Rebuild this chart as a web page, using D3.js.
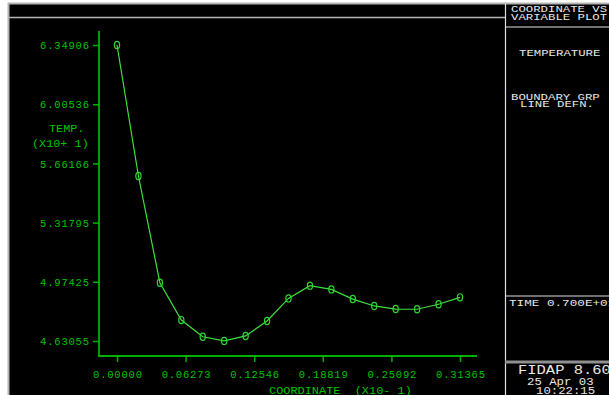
<!DOCTYPE html>
<html><head><meta charset="utf-8">
<script src="https://cdn.jsdelivr.net/npm/d3@7/dist/d3.min.js"></script>
<style>
html,body{margin:0;padding:0;background:#fff;}
svg{display:block;}
text{font-family:"Liberation Mono","DejaVu Sans Mono",monospace;white-space:pre;}
</style></head>
<body>
<script>
// Data (temperature in units of x10^1, coordinate in units of x10^-1)
const coords = [0.000000,0.019603,0.039206,0.058809,0.078413,0.098016,0.117619,0.137222,0.156825,0.176428,0.196031,0.215634,0.235238,0.254841,0.274444,0.294047,0.313650];
const temps  = [6.34906,5.5885,4.9690,4.7520,4.6550,4.6310,4.6600,4.7470,4.8780,4.9520,4.9300,4.8740,4.8340,4.8160,4.8150,4.8440,4.8840];
const xTicks = [0.00000,0.06273,0.12546,0.18819,0.25092,0.31365];
const xTickLabels = ["0.00000","0.06273","0.12546","0.18819","0.25092","0.31365"];
const yTicks = [4.63055,4.97425,5.31795,5.66166,6.00536,6.34906];
const yTickLabels = ["4.63055","4.97425","5.31795","5.66166","6.00536","6.34906"];
const panelTexts = ["COORDINATE VS","VARIABLE PLOT","TEMPERATURE","BOUNDARY GRP","LINE DEFN.","TIME 0.700E+01","FIDAP 8.60","25 Apr 03","10:22:15"];

const W=609,H=395;
const svg=d3.select("body").append("svg").attr("width",W).attr("height",H);
svg.append("rect").attr("width",W).attr("height",H).attr("fill","#fff");
svg.append("rect").attr("x",9).attr("y",4).attr("width",W-9).attr("height",H-4).attr("fill","#000");

// frame lines
const grey="#b4b4b4";
svg.append("line").attr("x1",8).attr("x2",W).attr("y1",3.5).attr("y2",3.5).attr("stroke",grey).attr("stroke-width",2);
svg.append("line").attr("x1",8.5).attr("x2",8.5).attr("y1",3).attr("y2",H).attr("stroke",grey).attr("stroke-width",2);
svg.append("line").attr("x1",9).attr("x2",505).attr("y1",17.5).attr("y2",17.5).attr("stroke",grey).attr("stroke-width",1.5);
svg.append("line").attr("x1",505.5).attr("x2",505.5).attr("y1",4).attr("y2",H).attr("stroke","#e0e0e0").attr("stroke-width",1.2);
svg.append("line").attr("x1",505).attr("x2",W).attr("y1",27).attr("y2",27).attr("stroke","#e0e0e0").attr("stroke-width",1);
svg.append("line").attr("x1",505).attr("x2",W).attr("y1",296).attr("y2",296).attr("stroke","#e0e0e0").attr("stroke-width",1);
svg.append("line").attr("x1",505).attr("x2",W).attr("y1",362).attr("y2",362).attr("stroke","#909090").attr("stroke-width",3);

const x=d3.scaleLinear().domain([0,0.31365]).range([117,460]);
const y=d3.scaleLinear().domain([4.63055,6.34906]).range([341,45]);

const axCol="#00b000", txtCol="#00c400";
const FS=10.5, LS=(7.1-0.6*FS);

// Y axis
const yAxis=d3.axisLeft(y).tickValues(yTicks).tickSize(6).tickPadding(4)
  .tickFormat((d,i)=>yTickLabels[i]);
const gy=svg.append("g").attr("transform","translate(99,0)").call(yAxis);
gy.select(".domain").remove();
gy.append("line").attr("x1",0).attr("x2",0).attr("y1",31).attr("y2",357).attr("stroke",axCol).attr("stroke-width",1.8);
gy.selectAll(".tick line").attr("stroke",axCol).attr("stroke-width",1.5);
gy.selectAll(".tick text").attr("fill",txtCol).attr("font-size",FS).attr("letter-spacing",LS)
  .attr("font-family","Liberation Mono, monospace").attr("dy","0.35em").attr("x",-10+LS);

// X axis
const xAxis=d3.axisBottom(x).tickValues(xTicks).tickSize(6).tickPadding(9)
  .tickFormat((d,i)=>xTickLabels[i]);
const gx=svg.append("g").attr("transform","translate(0,356)").call(xAxis);
gx.select(".domain").remove();
gx.append("line").attr("x1",98).attr("x2",477).attr("y1",0).attr("y2",0).attr("stroke",axCol).attr("stroke-width",1.8);
gx.selectAll(".tick line").attr("stroke",axCol).attr("stroke-width",1.5);
gx.selectAll(".tick text").attr("fill",txtCol).attr("font-size",FS).attr("letter-spacing",LS)
  .attr("font-family","Liberation Mono, monospace").attr("dx",LS/2);

// text helper: start-anchored, glyphs stretched to a fixed char cell width
function txt(t,xx,yy,fs,cw,col){
  const s=cw/(0.6*fs);
  return svg.append("text").attr("transform",`translate(${xx},${yy}) scale(${s},1)`)
    .attr("fill",col).attr("font-size",fs).text(t);
}
// axis titles
txt("TEMP.",49,132,FS,7.1,txtCol);
txt("(X10+ 1)",32,147,FS,7.1,txtCol);
txt("COORDINATE  (X10- 1)",269,393.5,FS,7.15,txtCol);

// data line
const pts=coords.map((c,i)=>[c,temps[i]]);
svg.append("path").datum(pts)
  .attr("d",d3.line().x(d=>x(d[0])).y(d=>y(d[1])))
  .attr("fill","none").attr("stroke","#3ee03e").attr("stroke-width",1.2);
svg.selectAll(".mk").data(pts).enter().append("ellipse")
  .attr("cx",d=>x(d[0])).attr("cy",d=>y(d[1])).attr("rx",2.6).attr("ry",3.6)
  .attr("fill","none").attr("stroke","#2ed82e").attr("stroke-width",1.2);

// right panel text
const wt="#e8e8e8";
txt(panelTexts[0],511,12.3,8.6,7.4,wt);
txt(panelTexts[1],511,19.8,8.6,7.4,wt);
txt(panelTexts[2],519,56,9.6,7.4,wt);
txt(panelTexts[3],511,100,8.6,7.4,wt);
txt(panelTexts[4],520,106.8,8.6,7.4,wt);
txt(panelTexts[5],509,305.7,9.6,7.6,wt);
txt(panelTexts[6],518,374,13.5,9.3,wt);
txt(panelTexts[7],527,385,10,7.4,wt);
txt(panelTexts[8],536,394.3,10,7.4,wt);
</script>
</body></html>
